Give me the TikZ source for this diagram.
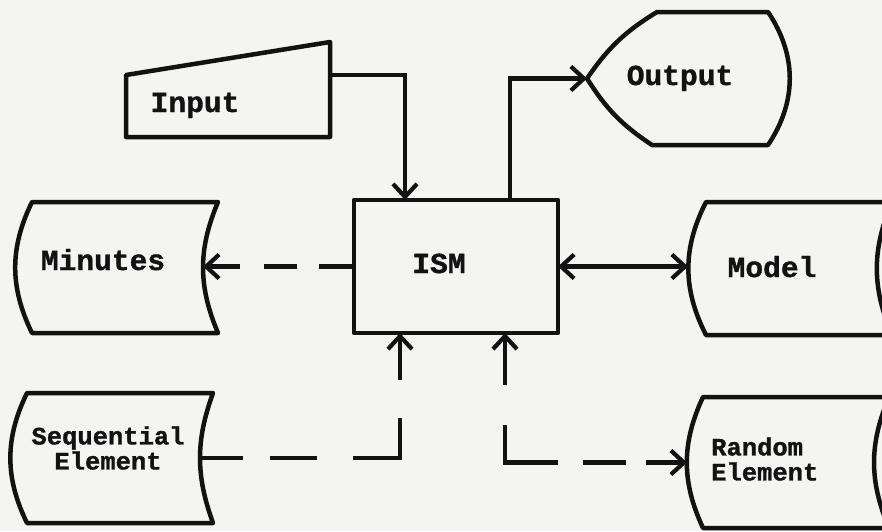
\documentclass[tikz,border=0pt]{standalone}
\usepackage{fontspec}
\usepackage{xcolor}
\usepackage{tikz}
\usetikzlibrary{arrows.meta}
\newfontfamily\typerfont{Liberation Mono}[FakeStretch=1.02, BoldFeatures={FakeBold=1.2}]
\definecolor{ink}{RGB}{18, 18, 18}
\definecolor{paper}{RGB}{244, 244, 242}

\begin{document}
\begin{tikzpicture}[
  x=1pt, y=-1pt,
  >={Straight Barb[length=13pt, width=24pt]},
  frame/.style={rectangle, inner sep=0pt, outer sep=0pt},
  outline/.style={draw=ink, line width=4.5pt, line join=round},
  lbl/.style={font=\typerfont\bfseries\fontsize{29}{30}\selectfont, text=ink, inner sep=0pt},
  smalllbl/.style={font=\typerfont\bfseries\fontsize{25}{25}\selectfont, text=ink, inner sep=0pt},
  flow/.style={draw=ink, line width=4.2pt},
]

% paper and page size
\path[fill=paper, use as bounding box] (0,0) rectangle (882,531);
\clip (0,0) rectangle (882,531);

% Frames
\node[frame, minimum width=204pt, minimum height=95pt]  (inp)    at (228,89.5)  {};
\node[frame, outline, minimum width=204pt, minimum height=133pt] (ism) at (456,266.5) {};
\node[frame, minimum width=186pt, minimum height=131pt] (minutes) at (125,267.5) {};
\node[frame, minimum width=186pt, minimum height=133pt] (model)  at (799,268.5) {};
\node[frame, minimum width=186pt, minimum height=130pt] (seq)    at (120,458)   {};
\node[frame, minimum width=186pt, minimum height=131pt] (random) at (796,462.5) {};
\node[frame, minimum width=203pt, minimum height=133pt] (out)    at (688.5,78.5) {};

% Input (manual input)
\draw[outline] ([yshift=-33pt]inp.north west) -- (inp.north east) -- (inp.south east)
  -- (inp.south west) -- cycle;

% Output (display)
\draw[outline] (out.west) to[bend left=12] ([xshift=70pt]out.north west)
  -- ([xshift=-22pt]out.north east) to[bend left=34] ([xshift=-22pt]out.south east)
  -- ([xshift=65pt]out.south west) to[bend left=12] (out.west) -- cycle;

% Stored data shapes
\draw[outline] (minutes.north west) to[bend right=26] (minutes.south west)
  -- (minutes.south east) to[bend left=23] (minutes.north east) -- cycle;
\draw[outline] (model.north west) to[bend right=27] (model.south west)
  -- (model.south east) to[bend left=23] (model.north east) -- cycle;
\draw[outline] (seq.north west) to[bend right=26] (seq.south west)
  -- (seq.south east) to[bend left=20] (seq.north east) -- cycle;
\draw[outline] (random.north west) to[bend right=25] (random.south west)
  -- (random.south east) to[bend left=23] (random.north east) -- cycle;

% Labels
\node[lbl, anchor=base] (inp-txt)     at (195,112) {Input};
\node[lbl, anchor=base] (ism-txt)     at (439,273) {ISM};
\node[lbl, anchor=base] (minutes-txt) at (103,270) {Minutes};
\node[lbl, anchor=base] (model-txt)   at (772,277) {Model};
\node[lbl, anchor=base] (out-txt)     at (680,85)  {Output};
\node[smalllbl, align=center] (seq-txt) at (108,448) {Sequential\\Element};
\node[smalllbl, align=left, anchor=west] (random-txt) at (711,459) {Random\\Element};

% Connector ends
\coordinate (inp-out)    at ([yshift=-33pt]inp.north east);
\coordinate (ism-n1)     at ([xshift=-51pt]ism.north);
\coordinate (ism-n2)     at ([xshift=54pt]ism.north);
\coordinate (ism-s1)     at ([xshift=-56pt]ism.south);
\coordinate (ism-s2)     at ([xshift=49pt]ism.south);
\coordinate (minutes-in) at ([xshift=-15pt]minutes.east);
\coordinate (model-in)   at ([xshift=-18pt]model.west);
\coordinate (seq-out)    at ([xshift=-13pt]seq.east);
\coordinate (random-in)  at ([xshift=-16pt]random.west);

% Input feeds ISM
\draw[flow, ->] (inp-out) -| (ism-n1);

% ISM to Output
\draw[flow, ->] (ism-n2) |- (out.west);

% ISM <-> Model
\draw[flow, <->] (ism.east) -- (ism.east -| model-in);

% ISM to Minutes (dashed)
\draw[flow, ->, dash pattern=on 35pt off 22pt on 33pt off 24pt on 60pt off 200pt]
  (ism.west) -- (ism.west -| minutes-in);

% Sequential Element to ISM (dashed)
\draw[flow, ->, dash pattern=on 43pt off 27pt on 47pt off 36pt on 87pt off 38pt on 80pt off 200pt]
  (seq-out) -| (ism-s1);

% ISM <-> Random Element (dashed)
\draw[flow, <->, dash pattern=on 47pt off 40pt on 90pt off 25pt on 43pt off 20pt on 80pt off 200pt]
  (ism-s2) |- (random-in);

\end{tikzpicture}
\end{document}
